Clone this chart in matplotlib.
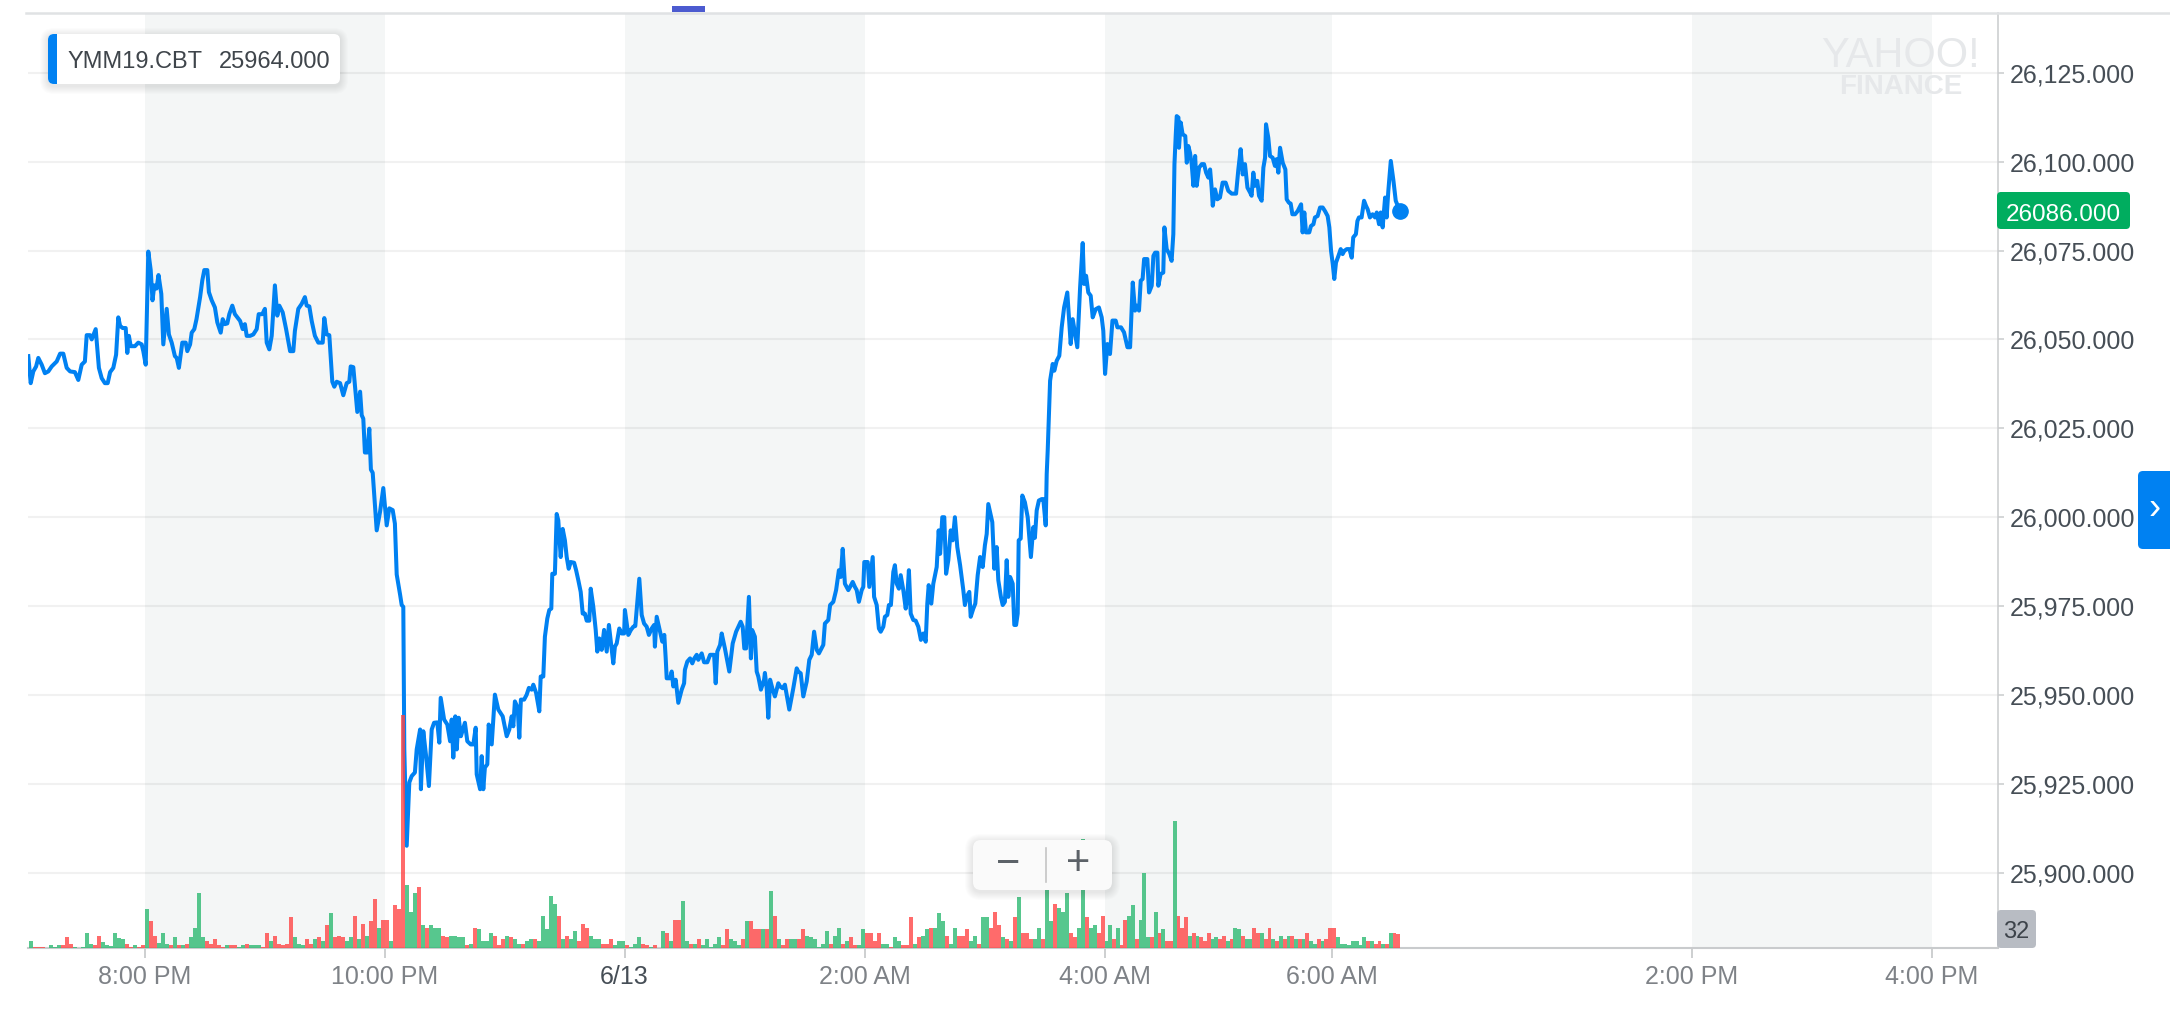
import numpy as np
import matplotlib
matplotlib.use("Agg")
import matplotlib.pyplot as plt
from matplotlib.patches import FancyBboxPatch, Rectangle
from matplotlib.lines import Line2D
from matplotlib.ticker import FuncFormatter
from matplotlib.transforms import Affine2D

plt.rcParams['font.family'] = ['Liberation Sans', 'DejaVu Sans']

# price, minutes from midnight 6/13 (negative = evening of 6/12)
price_time = [
    -298.1, -296.9, -295.6, -294.2, -293.1, -291.4, -289.8, -288.1, -286.4, -283.9,
    -282.2, -280.6, -278.9, -277.2, -274.8, -273.1, -271.4, -269.8, -268.9, -267.2,
    -266.4, -264.4, -262.8, -261.4, -259.8, -258.4, -257.2, -255.6, -254.2, -253.1,
    -252.2, -250.9, -249.4, -248.6, -247.8, -246.9, -244.8, -243.1, -241.4, -240.6,
    -239.4, -238.1, -236.9, -236.0, -235.1, -234.0, -233.0, -231.6, -230.6, -228.9,
    -227.8, -226.4, -224.8, -223.9, -222.8, -221.1, -219.4, -218.6, -217.2, -216.4,
    -215.1, -214.0, -212.2, -211.1, -210.1, -208.6, -207.8, -206.4, -204.8, -203.6,
    -201.9, -200.9, -199.8, -198.6, -197.6, -196.1, -194.8, -193.6, -192.2, -190.9,
    -189.8, -188.9, -187.2, -185.6, -183.9, -182.9, -181.1, -179.8, -178.9, -177.6,
    -176.4, -174.8, -173.6, -172.6, -170.9, -169.2, -167.2, -165.6, -164.8, -163.1,
    -161.4, -159.8, -158.9, -157.6, -156.4, -154.8, -153.1, -150.9, -150.1, -148.9,
    -147.6, -146.1, -145.1, -143.9, -142.2, -140.6, -138.9, -137.6, -136.9, -135.6,
    -133.6, -132.2, -131.4, -130.6, -129.8, -128.6, -127.6, -126.8, -125.9, -123.9,
    -122.2, -120.6, -118.9, -117.6, -115.9, -114.8, -113.9, -112.2,
    -111.4, -110.6, -110.1, -108.9, -107.6, -106.4, -104.8, -103.9, -102.2, -101.8,
    -100.6, -99.2, -97.8, -96.4, -95.2, -93.6, -92.6, -91.9, -90.2, -88.6,
    -87.2, -86.4, -85.6, -84.6, -83.9, -82.9, -81.8, -79.8, -78.6, -76.9,
    -75.6, -74.4, -73.9, -72.2, -71.4, -70.6, -69.8, -68.6, -67.9, -66.4,
    -64.8, -63.1, -60.9, -58.9, -57.6, -56.4, -55.6, -54.8, -53.4, -52.6,
    -51.8, -50.2, -48.9, -47.8, -46.4, -45.6, -44.2, -42.6, -41.9, -40.6,
    -39.8, -38.6, -37.6, -36.6, -36.1, -34.8, -33.9, -33.1, -31.9, -30.9,
    -29.8, -28.9, -27.9, -26.9, -25.2, -24.2, -23.1, -21.9, -20.9, -19.8,
    -18.9, -17.6, -16.9, -15.6, -14.4, -13.6, -12.6, -11.4, -10.2, -8.9,
    -7.8, -6.4, -5.6, -4.8, -3.9, -2.6, -1.4, -0.2, 0.2, 1.1,
    1.9, 3.2, 4.4, 5.4, 7.4, 8.6, 9.8, 11.1, 12.2, 13.6,
    14.8, 15.2, 16.1, 17.8, 18.9, 19.9, 20.6, 21.1, 22.8, 23.6,
    24.4, 25.6, 26.9, 28.6, 29.8, 30.2, 31.4, 32.8, 33.9, 34.9,
    36.1, 36.9, 38.6, 39.8, 41.4, 42.8, 44.8, 45.6, 46.4, 47.8,
    48.6, 50.2, 52.4, 54.1, 55.8, 58.1, 59.1, 59.9, 60.8, 62.2,
    63.2, 63.8, 65.2, 66.1, 66.9, 68.2, 69.8, 70.2, 71.1, 71.9,
    72.8, 74.1, 75.2, 76.9, 77.8, 79.1, 80.2, 82.4, 84.4, 86.1,
    86.9, 88.1, 89.4, 91.1, 92.4, 93.6, 94.8, 96.1, 97.2, 99.4,
    100.2, 101.9, 102.8, 104.4, 105.8, 107.2, 108.1, 109.1, 110.2, 111.9,
    112.8, 114.1, 115.2, 116.1, 117.2, 118.6, 119.4, 119.9, 121.6, 122.4,
    124.1, 124.8, 126.1, 127.2, 128.1, 129.4, 130.2, 131.4, 132.2, 133.2,
    134.4, 135.2, 136.1, 137.2, 138.1, 139.4, 140.6, 141.4, 142.2, 143.1,
    144.4, 145.6, 146.9, 148.2, 149.4, 150.6, 151.4, 152.1, 153.4, 154.4,
    156.1, 157.1, 157.8, 158.9, 159.9, 160.8, 161.9, 163.1, 164.1, 165.2,
    166.4, 167.8, 169.4, 170.2, 171.1, 172.4, 173.1, 174.4, 175.4, 176.6,
    177.8, 179.1, 180.2, 181.1, 181.9, 182.8, 183.9, 184.9, 186.1, 186.9,
    188.2, 189.1, 190.2, 191.1, 191.9, 192.8, 194.1, 194.9, 195.8, 196.6,
    197.1, 198.1, 198.9, 200.2, 201.6, 203.2, 204.4, 205.2, 206.1, 207.2,
    208.6, 209.4, 210.6, 211.1, 211.6,
    212.8, 214.1, 214.9, 216.1, 217.4, 218.6, 219.8, 221.4, 223.1, 224.1,
    225.2, 226.4, 227.8, 229.1, 229.8, 230.8, 231.9, 233.1, 234.1, 235.6,
    237.2, 238.6, 239.4, 240.3, 241.5, 242.9, 244.2, 245.9, 246.8, 248.7,
    250.3, 252.1, 253.5, 254.9, 256.1, 257.0, 258.2, 259.1, 260.1, 260.9,
    262.6, 263.5, 264.9, 265.8, 266.7, 267.9, 268.4, 269.6, 271.0, 271.6,
    272.8, 274.2, 275.4, 276.3, 276.9, 277.6, 278.1, 279.0, 279.3, 280.2,
    281.2, 282.6, 283.4, 284.2, 285.1, 286.0, 286.9, 287.8, 288.6, 289.9,
    291.3, 292.5, 293.6, 294.8, 295.7, 296.5, 297.1, 298.3, 299.5, 300.9,
    302.3, 303.9, 305.3, 307.1, 309.4, 310.6, 311.8, 312.9, 314.1, 315.4,
    316.8, 317.6, 318.5, 319.4, 320.6, 321.5, 322.9, 323.8, 324.7, 325.2,
    326.4, 327.3, 328.7, 329.9, 330.8, 331.7, 332.6, 334.0, 335.4, 336.1,
    337.2, 338.2, 339.1, 340.5, 341.9, 343.7, 344.5, 345.4, 346.3, 348.0,
    348.9, 350.2, 351.0, 352.4, 353.7, 355.1, 356.3, 357.7, 358.6, 359.5,
    360.4, 361.2, 362.1, 363.4, 364.6, 365.6, 366.5, 367.8, 369.2, 370.4,
    371.2, 372.6, 373.4, 374.2, 375.6, 376.9, 377.9, 378.8, 380.0, 381.4,
    382.7, 383.6, 384.8, 385.7, 386.7, 388.0, 388.8, 389.7, 391.0, 392.4,
    393.6, 395.9,
]
price = [
    26045.3, 26037.7, 26041.0, 26042.4, 26044.8, 26042.9, 26040.5, 26041.0, 26042.4, 26043.8,
    26046.0, 26046.0, 26042.0, 26041.0, 26040.8, 26038.6, 26042.9, 26043.8, 26051.2, 26051.2,
    26050.0, 26052.9, 26042.0, 26039.1, 26037.7, 26037.7, 26040.8, 26042.0, 26045.7, 26056.2,
    26053.8, 26053.2, 26053.2, 26046.2, 26051.0, 26048.1, 26048.1, 26049.1, 26048.6, 26046.7,
    26042.9, 26074.7, 26069.5, 26061.0, 26065.2, 26064.3, 26068.1, 26062.8, 26048.6, 26058.6,
    26051.4, 26049.1, 26045.3, 26044.8, 26042.0, 26049.1, 26049.1, 26046.7, 26048.6, 26051.9,
    26052.9, 26055.7, 26061.9, 26066.6, 26069.5, 26069.5, 26063.3, 26061.0, 26059.0, 26054.8,
    26051.9, 26055.7, 26054.3, 26054.5, 26057.1, 26059.5, 26057.1, 26056.2, 26055.2, 26052.9,
    26054.3, 26051.0, 26051.0, 26051.4, 26052.9, 26057.1, 26057.1, 26058.6, 26049.1, 26047.2,
    26051.0, 26065.2, 26056.7, 26059.5, 26057.6, 26052.9, 26046.7, 26046.7, 26052.4, 26058.6,
    26060.0, 26061.9, 26059.5, 26059.3, 26055.2, 26051.0, 26049.1, 26049.1, 26056.0, 26051.4,
    26051.2, 26038.1, 26036.7, 26038.1, 26037.7, 26034.3, 26037.7, 26038.1, 26042.4, 26042.2,
    26029.6, 26035.3, 26028.7, 26027.7, 26018.2, 26018.2, 26024.9, 26013.4, 26012.5, 25996.3,
    26001.6, 26008.2, 25997.7, 26002.5, 26002.0, 25998.2, 25983.9, 25978.2,
    25975.3, 25974.8, 25934.7, 25907.6, 25925.4, 25927.2, 25928.2, 25934.7, 25940.3, 25923.5,
    25939.8, 25932.8, 25924.4, 25940.3, 25942.2, 25942.3, 25936.6, 25949.2, 25943.1, 25941.7,
    25937.0, 25943.1, 25932.4, 25944.0, 25934.7, 25943.6, 25938.4, 25942.2, 25937.0, 25936.1,
    25936.1, 25940.8, 25927.7, 25923.5, 25932.8, 25923.5, 25929.6, 25930.5, 25941.7, 25936.1,
    25950.1, 25945.9, 25944.0, 25938.4, 25940.3, 25944.0, 25941.2, 25948.2, 25946.4, 25938.0,
    25948.7, 25948.7, 25950.1, 25952.0, 25951.5, 25952.9, 25950.6, 25945.4, 25955.2, 25955.2,
    25966.4, 25971.5, 25973.9, 25974.3, 25984.1, 25984.1, 26000.9, 25999.1, 25988.8, 25996.7,
    25993.5, 25988.8, 25985.5, 25987.4, 25987.2, 25985.1, 25982.3, 25979.0, 25972.9, 25972.9,
    25970.9, 25970.9, 25979.9, 25974.8, 25968.3, 25962.2, 25965.9, 25962.7, 25968.3, 25962.2,
    25969.7, 25962.7, 25958.9, 25963.6, 25964.5, 25968.7, 25967.3, 25967.3, 25973.9, 25970.1,
    25966.9, 25968.3, 25969.2, 25969.4, 25982.7, 25972.5, 25970.1, 25969.2, 25966.9, 25968.7,
    25969.7, 25963.6, 25972.0, 25967.8, 25965.0, 25966.9, 25960.3, 25954.7, 25954.7, 25956.6,
    25952.4, 25954.3, 25947.8, 25951.5, 25953.3, 25957.1, 25959.4, 25960.3, 25958.9, 25960.3,
    25961.3, 25959.9, 25961.7, 25959.2, 25959.2, 25961.3, 25961.3, 25953.3, 25962.2, 25964.1,
    25967.3, 25963.1, 25956.6, 25964.5, 25967.8, 25970.6, 25969.2, 25963.1, 25963.1, 25977.6,
    25960.3, 25968.3, 25966.4, 25956.6, 25955.2, 25951.5, 25954.3, 25956.2, 25951.9, 25943.6,
    25954.3, 25951.5, 25949.6, 25953.3, 25952.4, 25951.9, 25952.9, 25945.9, 25951.9, 25957.5,
    25956.6, 25956.1, 25949.6, 25953.8, 25959.9, 25961.3, 25967.8, 25962.7, 25961.7, 25964.1,
    25970.1, 25971.1, 25975.3, 25976.2, 25979.5, 25985.1, 25983.2, 25991.1, 25981.3, 25979.5,
    25980.4, 25981.8, 25980.4, 25979.5, 25976.2, 25979.5, 25980.4, 25987.4, 25987.4, 25980.4,
    25988.8, 25977.6, 25975.3, 25968.7, 25967.8, 25969.2, 25972.0, 25972.5, 25975.3, 25975.3,
    25984.6, 25986.5, 25981.3, 25979.9, 25983.7, 25979.5, 25974.3, 25977.6, 25985.1, 25972.9,
    25971.1, 25970.9, 25969.2, 25965.5, 25967.3, 25965.0, 25975.7, 25980.9, 25975.7, 25981.3,
    25986.0, 25996.3, 25989.7, 26000.0, 26000.0, 25984.1, 25987.9, 25996.3, 25993.5, 26000.0,
    25991.6, 25986.5, 25979.5, 25975.3, 25977.6, 25979.0, 25972.0, 25974.3, 25975.7, 25983.7,
    25988.8, 25986.0, 25992.1, 25995.3, 26003.7, 26001.4, 25998.6, 25985.5, 25991.6, 25982.3,
    25977.6, 25975.3, 25976.2, 25987.9, 25977.6, 25983.2, 25981.3, 25969.7, 25969.7, 25972.9,
    25993.5, 25994.0, 26006.1, 26004.2, 26000.0, 25988.8, 25997.2, 25994.2, 26001.9, 26004.7,
    26005.1, 26005.1, 25997.7, 26012.1, 26018.7,
    26038.4, 26043.1, 26041.2, 26044.0, 26045.4, 26053.4, 26059.0, 26063.2, 26048.7, 26055.7,
    26052.0, 26047.8, 26064.6, 26077.1, 26065.6, 26067.9, 26063.2, 26062.3, 26056.2, 26058.5,
    26059.0, 26056.2, 26052.4, 26040.3, 26048.7, 26045.9, 26055.3, 26055.3, 26053.4, 26053.4,
    26052.0, 26047.8, 26047.8, 26066.0, 26058.1, 26059.5, 26058.1, 26066.5, 26067.0, 26072.6,
    26072.6, 26063.2, 26065.1, 26073.5, 26074.4, 26074.4, 26065.1, 26068.4, 26068.8, 26081.5,
    26075.4, 26074.0, 26072.1, 26079.6, 26099.3, 26107.7, 26112.8, 26112.4, 26103.9, 26111.0,
    26107.7, 26107.2, 26099.7, 26104.4, 26102.5, 26099.3, 26093.2, 26101.6, 26093.2, 26098.3,
    26099.3, 26099.3, 26096.9, 26095.5, 26097.8, 26092.7, 26087.6, 26092.2, 26089.4, 26089.9,
    26094.1, 26094.1, 26091.8, 26091.0, 26091.0, 26097.8, 26103.5, 26096.4, 26099.3, 26092.7,
    26091.3, 26090.4, 26096.9, 26093.2, 26094.6, 26090.4, 26089.0, 26098.3, 26101.1, 26110.5,
    26106.7, 26101.6, 26101.1, 26098.8, 26100.7, 26096.9, 26103.9, 26099.7, 26097.8, 26089.4,
    26088.5, 26088.2, 26085.2, 26085.2, 26086.1, 26088.0, 26080.1, 26085.7, 26080.1, 26080.1,
    26081.9, 26082.4, 26084.3, 26084.7, 26087.1, 26087.1, 26086.1, 26084.7, 26081.5, 26074.9,
    26071.2, 26067.0, 26071.6, 26073.5, 26075.4, 26074.0, 26074.9, 26075.4, 26075.4, 26073.0,
    26078.7, 26079.6, 26083.3, 26084.3, 26084.3, 26089.0, 26087.6, 26086.6, 26084.3, 26085.2,
    26084.3, 26085.7, 26082.4, 26085.7, 26081.5, 26089.9, 26084.3, 26091.8, 26100.2, 26094.6,
    26089.0, 26086.0,
]

# 2-minute volume bars, first bar starts at 7:02 PM (-298 min)
volume = [
    15, 2, 2, 2, 1, 6, 3, 6, 6, 24, 10, 3, 1, 2, 34, 8, 6, 28, 14, 6,
    4, 34, 22, 21, 10, 2, 6, 2, 6, 87, 60, 28, 11, 33, 10, 6, 24, 7, 6, 10,
    24, 46, 123, 24, 15, 10, 20, 6, 3, 6, 6, 6, 2, 6, 10, 6, 6, 6, 2, 33,
    15, 28, 10, 6, 10, 69, 24, 10, 6, 20, 10, 20, 24, 15, 51, 78, 24, 28, 24, 15,
    24, 73, 20, 55, 28, 60, 110, 46, 64, 64, 15, 96, 87, 524, 141, 82, 123, 137, 51, 46,
    51, 46, 46, 28, 24, 28, 28, 24, 24, 6, 10, 46, 42,
    15, 15, 33, 28, 6, 20, 28, 24, 20, 10, 10, 15, 20, 20, 15, 73, 42, 118, 100, 73,
    20, 28, 20, 38, 15, 55, 46, 28, 20, 20, 10, 10, 20, 6, 15, 15, 6, 2, 10, 24,
    10, 6, 2, 6, 1, 38, 33, 15, 64, 64, 105, 15, 10, 10, 20, 6, 20, 2, 10, 24,
    6, 42, 20, 15, 6, 20, 60, 60, 42, 42, 42, 42, 128, 73, 20, 6, 20, 20, 20, 20,
    42, 28, 24, 20, 2, 10, 38, 10, 28, 46, 10, 15, 24, 6, 6, 42, 33, 33, 15, 33,
    10, 10, 2, 24, 15, 6, 6, 69, 10, 24, 28, 42, 46, 46, 78,
    60, 28, 10, 46, 28, 28, 42, 15, 28, 10, 69, 69, 46, 82, 51, 24, 20, 15, 69, 114,
    33, 33, 20, 20, 46, 20, 131, 60, 100, 90, 82, 123, 33, 24, 46, 245, 69, 46, 51, 33,
    73, 15,
    51, 20, 46, 6, 64, 73, 96, 20, 64, 168, 24, 24, 82, 33, 42, 15, 15, 285, 73, 46,
    69, 28, 33, 28, 24, 15, 33, 20, 24, 20, 28, 15, 20, 46, 42, 28, 20, 20, 46, 33,
    33, 20, 46, 20, 15, 28, 20, 28, 28, 20, 20, 20, 33, 15, 10, 20, 15, 20, 46, 46,
    24, 10, 10, 6, 15, 15, 6, 24, 15, 15, 10, 15, 10, 10, 33, 33, 32,
]
# g = up bar, r = down bar
vol_dir = (
    "grrrggggrr" "rgrgggrrgg" "ggggrrgrrg" "rrgggrgrgr" "ggggrrrrrg" "rrggrgggrr"
    "grrrrrgggr" "rgrgrgrrrg" "grgrgrrgrr" "grrrgggrgr" "gggrrggggr" "grg"
    "gggrrrgrgg" "rggrgggggr" "grggrrrggg" "rrrgggrggg" "rrgrggrgrr" "ggrgrggggg"
    "rrgggrgrrr" "grgrgrrggr" "rggggggrgg" "rgrrggrrrr" "ggrggrrrgr" "ggrgg"
    "grggrrrggr" "ggrrrgrgrg" "rrrggrggrg" "ggrrggrggr" "rg"
    "grgrrggrgg" "grgrgrrgrr" "rgrgrrrggr" "rgrggrggrr" "grrgrgrgrg" "rgrggrgrrr"
    "ggggggggrg" "rrgrgrr"
)
vol_time = -298 + 2 * np.arange(len(volume))

tick_min = [-240, -120, 0, 120, 240, 360, 840, 960]
tick_lab = ['8:00 PM', '10:00 PM', '6/13', '2:00 AM', '4:00 AM', '6:00 AM', '2:00 PM', '4:00 PM']
shade = [(-240, -120), (0, 120), (240, 360), (840, 960)]
price_ticks = [25900, 25925, 25950, 25975, 26000, 26025, 26050, 26075, 26100, 26125]
symbol = 'YMM19.CBT'
hover_val = 25964.0
last_price = 26086.0
last_vol = 32

# the time axis is not linear: anchors minute -> pixel
T_ANCH = [-600, -240, 240, 360, 420, 840, 960, 1500]
P_ANCH = [-575.5, 144.5, 1104.5, 1332, 1445.8, 1692, 1932, 3012]


def fwd(t):
    return np.interp(t, T_ANCH, P_ANCH)


def inv(p):
    return np.interp(p, P_ANCH, T_ANCH)


W, H = 2170, 1032
fig = plt.figure(figsize=(W / 100, H / 100), dpi=100)
fig.patch.set_facecolor('white')
ax = fig.add_axes([28 / W, 1 - 948 / H, (1998 - 28) / W, (948 - 13) / H])
ax2 = ax.twinx()
ax.set_xscale('function', functions=(fwd, inv))
ax.set_xlim(-298.25, 993)
ax.set_ylim(25878.85, 26141.8)

for a, b in shade:
    ax.axvspan(a, b, color='#f4f6f6', lw=0, zorder=0)

ax.set_axisbelow(True)
ax.yaxis.grid(True, color='black', alpha=0.055, lw=1.5)
ax.plot(price_time, price, color='#0081f2', lw=2.9, solid_joinstyle='round', zorder=3)
ax.plot(price_time[-1], price[-1], 'o', ms=11, color='#0081f2', zorder=4)

ax.yaxis.tick_right()
ax.set_yticks(price_ticks)
ax.yaxis.set_major_formatter(FuncFormatter(lambda v, p: f'{v:,.3f}'))
ax.set_xticks(tick_min)
ax.set_xticklabels(tick_lab)
for s in ['left', 'top']:
    ax.spines[s].set_visible(False)
ax.spines['right'].set_color('#c9cbcd')
ax.spines['right'].set_linewidth(1.1)
ax.spines['bottom'].set_color('#c9cbcd')
ax.spines['bottom'].set_linewidth(1.5)
ax.tick_params(axis='x', direction='out', length=7.2, width=1.3, color='#c9cbcd',
               pad=5, labelsize=18, labelcolor='#7e8287')
ax.tick_params(axis='y', direction='out', length=4.3, width=1.1, color='#c9cbcd',
               pad=4.5, labelsize=18, labelcolor='#464e56',
               left=False, labelleft=False, right=True, labelright=True)
for t in ax.get_xticklabels():
    if t.get_text() == '6/13':
        t.set_color('#464e56')

ax2.set_ylim(0, 2104)
ax2.set_yticks([])
ax2.tick_params(left=False, right=False, labelleft=False, labelright=False)
for s in ax2.spines.values():
    s.set_visible(False)
cols = ['#2db972' if d == 'g' else '#ff4646' for d in vol_dir]
ax2.bar(vol_time, volume, width=2, align='edge', color=cols, alpha=0.8, lw=0, zorder=2)

# overlays in pixel coordinates (y from the top)
px = Affine2D().scale(1 / W, -1 / H).translate(0, 1) + fig.transFigure


def box(x, y, w, h, r, fc, **kw):
    p = FancyBboxPatch((x, y), w, h, boxstyle=f'round,pad=0,rounding_size={r}',
                       fc=fc, ec='none', transform=px, **kw)
    fig.patches.append(p)
    return p


def shadow(x, y, w, h, r):
    for k in range(1, 9):
        box(x - k, y - k + 2, w + 2 * k, h + 2 * k, r + k, 'black', alpha=0.012)


fig.lines.append(Line2D([26, W], [13, 13], color='#e0e2e4', lw=1.8, transform=px))
fig.patches.append(Rectangle((672, 6), 33, 6, fc='#4c5bd0', ec='none', transform=px))

# tooltip
shadow(48, 34, 292, 50, 6)
box(48, 34, 292, 50, 6, 'white')
box(48, 34, 16, 50, 6, '#0081f2')
fig.patches.append(Rectangle((57, 34), 10, 50, fc='white', ec='none', transform=px))
fig.text(67, 68, symbol, transform=px, fontsize=17, color='#3f454b', va='baseline')
fig.text(219, 68, f'{hover_val:.3f}', transform=px, fontsize=17, color='#3f454b', va='baseline')

# watermark
fig.text(1901, 67, 'YAHOO!', transform=px, fontsize=30, color='#e6e8ea', ha='center', va='baseline')
fig.text(1901, 94, 'FINANCE', transform=px, fontsize=20, color='#e6e8ea', ha='center',
         va='baseline', weight='bold')

# last price label
box(1997, 192, 133, 37, 4, '#00ad5f')
fig.text(2063.5, 221, f'{last_price:.3f}', transform=px, fontsize=17.5, color='white',
         ha='center', va='baseline')

# volume label
box(1997, 910, 39, 38, 4, '#b8bcc3')
fig.text(2016.5, 938, str(last_vol), transform=px, fontsize=17, color='#3d434a',
         ha='center', va='baseline')

# side tab
box(2138, 471, 45, 78, 5, '#0081f2')
fig.text(2154, 510, '\u203a', transform=px, fontsize=26, color='white', ha='center', va='center')

# zoom buttons
shadow(973, 840, 139, 50, 8)
box(973, 840, 139, 50, 8, '#fafafa')
fig.lines.append(Line2D([1046, 1046], [848, 882], color='#c5c5c5', lw=1.2, transform=px))
fig.text(1008, 864, '\u2212', transform=px, fontsize=30, color='#5c6268', ha='center', va='center')
fig.text(1078, 864, '+', transform=px, fontsize=30, color='#5c6268', ha='center', va='center')

fig.savefig('out.png', dpi=100, facecolor='white')
